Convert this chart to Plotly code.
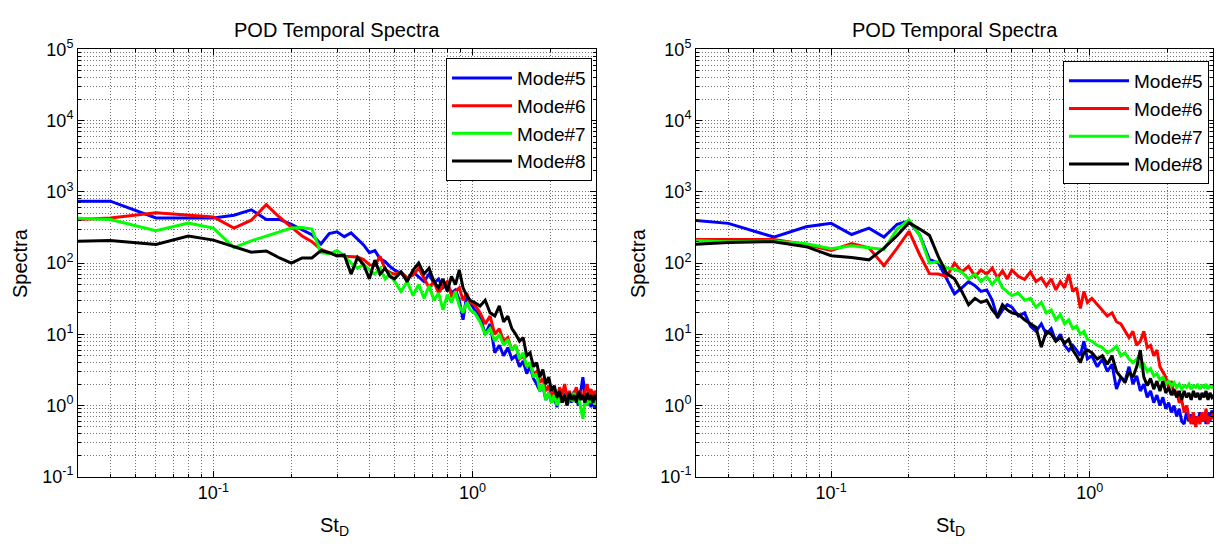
import plotly.graph_objects as go

# Strouhal number (St_D) sample points shared by every series
st_d = [0.02, 0.04, 0.06, 0.08, 0.10, 0.12, 0.14, 0.16, 0.18, 0.20,
        0.22, 0.24, 0.26, 0.28, 0.30, 0.32, 0.34, 0.36, 0.38, 0.40,
        0.42, 0.44, 0.46, 0.48, 0.50,
        0.53, 0.56, 0.59, 0.62, 0.65, 0.68, 0.71, 0.74, 0.77, 0.80,
        0.83, 0.86, 0.89, 0.92, 0.95, 0.98,
        1.02, 1.07, 1.12, 1.17, 1.22, 1.27, 1.32, 1.37, 1.42, 1.47,
        1.52, 1.57, 1.62, 1.67, 1.72, 1.77, 1.82, 1.87, 1.92, 1.97,
        2.02, 2.07, 2.12, 2.17, 2.22, 2.27, 2.32, 2.37, 2.42, 2.47,
        2.52, 2.57, 2.62, 2.67, 2.72, 2.77, 2.82, 2.87, 2.92, 2.97,
        3.02, 3.07]

mode_names = ["Mode#5", "Mode#6", "Mode#7", "Mode#8"]
mode_colors = ["#0000FF", "#FF0000", "#00FF00", "#000000"]

# ---- left panel ----
left_mode5 = [740, 740, 430, 430, 430, 470, 560, 410, 410, 350,
              290, 250, 185, 260, 275, 235, 265, 220, 180, 140,
              150, 115, 105, 90, 80,
              72, 60, 75, 65, 55, 70, 52, 60, 45, 50,
              38, 42, 30, 16, 35, 28,
              22, 18, 10, 14, 5.5, 7, 5, 6.5, 4.5, 5,
              3.5, 4.2, 2.8, 3.5, 2.4, 2.0, 1.6, 1.9, 1.2, 1.5,
              1.1, 1.3, 0.95, 1.4, 1.1, 1.5, 1.0, 1.3, 1.1, 1.6,
              1.2, 1.0, 1.7, 2.5, 1.4, 1.0, 1.2, 0.95, 1.3, 0.9,
              1.0, 0.95]
left_mode6 = [380, 430, 510, 475, 445, 310, 400, 660, 440, 320,
              240, 200, 155, 140, 128, 125, 125, 122, 112, 95,
              92, 125, 82, 74, 70,
              75, 62, 68, 85, 60, 45, 55, 38, 48, 55,
              35, 40, 45, 30, 38, 28,
              26, 20, 14, 18, 10, 12, 8, 9, 6, 7,
              4.5, 5, 3.5, 4, 2.7, 3, 2.1, 2.4, 1.6, 1.9,
              1.3, 1.6, 1.2, 1.8, 1.4, 2.0, 1.3, 1.6, 1.2, 1.5,
              1.8, 1.3, 1.6, 1.2, 1.5, 2.0, 1.4, 1.7, 1.3, 1.6,
              1.4, 1.5]
left_mode7 = [450, 410, 285, 365, 310, 165, 205, 240, 275, 310,
              315, 300, 140, 135, 150, 125, 100, 85, 95, 80,
              70, 85, 60, 70, 55,
              40, 55, 35, 50, 32, 48, 30, 38, 22, 36,
              28, 40, 25, 20, 28, 22,
              20, 15, 10, 12, 8, 10, 7, 8.5, 6, 7,
              4.5, 5.5, 3.5, 4, 2.5, 2.8, 1.6, 2.0, 1.2, 1.5,
              1.1, 1.4, 1.0, 1.3, 1.1, 1.4, 1.0, 1.3, 1.2, 1.5,
              1.1, 1.3, 0.9, 0.65, 1.2, 1.0, 1.4, 1.1, 1.3, 1.0,
              1.2, 1.1]
left_mode8 = [195, 207, 183, 240, 210, 172, 142, 148, 118, 100,
              118, 118, 150, 140, 126, 130, 70, 120, 95, 60,
              110, 70, 85, 65, 60,
              75, 55, 80, 100, 70, 85, 55, 45, 60, 40,
              65, 50, 80, 45, 35, 30,
              28, 25, 30, 20, 18, 25, 15, 18, 12, 10,
              8, 9, 5, 5.5, 3.5, 4, 2.5, 3.2, 2.0, 2.5,
              1.6, 1.9, 1.3, 1.6, 1.1, 1.4, 1.0, 1.5, 1.2, 1.4,
              1.1, 1.6, 1.2, 1.4, 1.1, 1.5, 1.2, 1.4, 1.1, 1.4,
              1.2, 1.3]

# ---- right panel ----
right_mode5 = [450, 361, 232, 323, 361, 252, 309, 232, 351, 390,
               247, 113, 100, 60, 37, 45, 55, 48, 40, 42,
               30, 17, 22, 26, 24,
               18, 20, 13, 11, 14, 10, 12, 8, 10, 7,
               5.9, 7, 6, 5, 8, 4.5,
               5, 3.5, 4.5, 3, 3.8, 1.7, 2.5, 2.2, 3.5, 2.0,
               2.6, 1.6, 2.0, 1.3, 1.6, 1.1, 1.4, 1.0, 1.3, 0.9,
               1.1, 0.8, 1.0, 0.7, 0.9, 0.6, 0.55, 0.8, 0.6, 0.75,
               0.55, 0.7, 0.6, 0.8, 0.6, 0.75, 0.55, 0.8, 0.6, 0.85,
               0.7, 0.75]
right_mode6 = [214, 214, 214, 182, 151, 188, 164, 92, 162, 280,
               131, 71, 70, 65, 100, 75, 90, 65, 80, 70,
               85, 62, 78, 60, 80,
               65, 59, 75, 55, 62, 48, 60, 42, 55, 45,
               70, 40, 45, 23, 40, 28,
               32, 26, 22, 18, 20, 15, 14, 11, 9, 11,
               7, 8, 11, 6.5, 7, 5, 6, 3.5, 3, 2.5,
               1.8, 2.2, 1.4, 1.6, 1.1, 1.2, 0.8, 1.0, 0.7, 0.55,
               0.8, 0.5, 0.7, 0.55, 0.8, 0.6, 0.9, 0.55, 0.7, 0.65,
               0.8, 0.7]
right_mode7 = [215, 200, 204, 187, 159, 175, 164, 155, 300, 405,
               245, 100, 105, 85, 82, 75, 60, 70, 55, 65,
               50, 62, 45, 40, 35,
               38, 30, 32, 24, 28, 20, 22, 16, 19, 14,
               16, 12, 13, 10, 11, 8.5,
               8, 7, 6.5, 5.5, 6, 6.8, 5, 5.5, 4.5, 4,
               4.5, 3.5, 3.8, 3.0, 3.3, 2.6, 2.8, 2.3, 2.5, 2.0,
               2.2, 1.9, 2.1, 1.8, 2.0, 1.7, 1.9, 1.8, 2.0, 1.7,
               1.9, 1.8, 2.0, 1.7, 1.9, 1.8, 2.0, 1.7, 1.9, 1.8,
               1.9, 1.7]
right_mode8 = [170, 195, 200, 170, 127, 120, 111, 162, 245, 370,
               300, 245, 122, 71, 60, 40, 26, 32, 28, 30,
               22, 18, 26, 22, 20,
               19, 16, 14, 12.5, 6.6, 11, 10, 8, 9, 7.5,
               8.5, 6, 5, 4, 5.5, 6,
               5.5, 4.5, 5, 3.8, 5, 3, 2.5, 2.1, 3, 2.5,
               3.5, 6, 2.5, 1.9, 2.4, 1.7, 2.2, 1.6, 2.2, 1.5,
               1.8, 1.4, 1.7, 1.3, 1.6, 1.2, 1.6, 1.3, 1.5, 1.2,
               1.6, 1.3, 1.5, 1.2, 1.5, 1.3, 1.6, 1.2, 1.5, 1.3,
               1.4, 1.3]

x_tick_vals = [0.1, 1]
x_tick_text = ["10<sup>-1</sup>", "10<sup>0</sup>"]
y_tick_vals = [0.1, 1, 10, 100, 1000, 10000, 100000]
y_tick_text = ["10<sup>-1</sup>", "10<sup>0</sup>", "10<sup>1</sup>", "10<sup>2</sup>",
               "10<sup>3</sup>", "10<sup>4</sup>", "10<sup>5</sup>"]
x_minor_vals = [0.03, 0.04, 0.05, 0.06, 0.07, 0.08, 0.09,
                0.2, 0.3, 0.4, 0.5, 0.6, 0.7, 0.8, 0.9, 2, 3]
y_minor_vals = [m * 10.0 ** k for k in range(-1, 5) for m in range(2, 10)]

FONT = "Arial, 'Liberation Sans', sans-serif"
W, H = 1221, 552

fig = go.Figure()
left_series = [left_mode5, left_mode6, left_mode7, left_mode8]
right_series = [right_mode5, right_mode6, right_mode7, right_mode8]
for name, color, ys in zip(mode_names, mode_colors, left_series):
    fig.add_trace(go.Scatter(x=st_d, y=ys, mode="lines", name=name,
                             line=dict(color=color, width=3),
                             xaxis="x", yaxis="y", legend="legend"))
for name, color, ys in zip(mode_names, mode_colors, right_series):
    fig.add_trace(go.Scatter(x=st_d, y=ys, mode="lines", name=name,
                             line=dict(color=color, width=3),
                             xaxis="x2", yaxis="y2", legend="legend2"))

grid_color = "rgba(0,0,0,0.55)"
GDASH = "1px,2px"

def xaxis_cfg(domain, anchor):
    return dict(type="log", domain=domain, anchor=anchor,
                range=[-1.5229, 0.4771],
                tickvals=x_tick_vals, ticktext=x_tick_text,
                ticks="inside", ticklen=6, tickcolor="black",
                showline=True, linecolor="black", linewidth=1, mirror="ticks",
                showgrid=True, gridcolor=grid_color, griddash=GDASH, gridwidth=1,
                minor=dict(tickvals=x_minor_vals, ticks="inside", ticklen=3,
                           tickcolor="black", showgrid=True,
                           gridcolor=grid_color, griddash=GDASH, gridwidth=1),
                tickfont=dict(family=FONT, size=18, color="black"),
                zeroline=False)

def yaxis_cfg(domain, anchor):
    return dict(type="log", domain=domain, anchor=anchor,
                range=[-1, 5],
                tickvals=y_tick_vals, ticktext=y_tick_text,
                ticks="inside", ticklen=6, tickcolor="black",
                showline=True, linecolor="black", linewidth=1, mirror="ticks",
                showgrid=True, gridcolor=grid_color, griddash=GDASH, gridwidth=1,
                minor=dict(tickvals=y_minor_vals, ticks="inside", ticklen=3,
                           tickcolor="black", showgrid=True,
                           gridcolor=grid_color, griddash=GDASH, gridwidth=1),
                tickfont=dict(family=FONT, size=18, color="black"),
                zeroline=False)

ydom = [1 - 484 / H, 1 - 39 / H]
legend_style = dict(bgcolor="white", bordercolor="black", borderwidth=1,
                    font=dict(family=FONT, size=19, color="black"),
                    itemwidth=60, tracegroupgap=0)
fig.update_layout(
    width=W, height=H,
    margin=dict(l=0, r=0, t=0, b=0),
    paper_bgcolor="white", plot_bgcolor="white",
    font=dict(family=FONT, color="black"),
    xaxis=xaxis_cfg([78 / W, 596 / W], "y"),
    yaxis=yaxis_cfg(ydom, "x"),
    xaxis2=xaxis_cfg([696 / W, 1213 / W], "y2"),
    yaxis2=yaxis_cfg(ydom, "x2"),
    legend=dict(x=592 / W, xanchor="right", y=1 - 48 / H, yanchor="top", **legend_style),
    legend2=dict(x=1209 / W, xanchor="right", y=1 - 51 / H, yanchor="top", **legend_style),
    showlegend=True,
)

annotations = []
for cx, ylab_x, xlab_x in [(337, 19.5, 334), (954.5, 637.5, 951)]:
    annotations.append(dict(text="POD Temporal Spectra", x=cx / W, y=1 - 18.5 / H,
                            xref="paper", yref="paper", showarrow=False,
                            xanchor="center", yanchor="middle",
                            font=dict(family=FONT, size=20, color="black")))
    annotations.append(dict(text="St<sub>D</sub>", x=xlab_x / W, y=1 - 536 / H,
                            xref="paper", yref="paper", showarrow=False,
                            xanchor="center", yanchor="middle",
                            font=dict(family=FONT, size=20, color="black")))
    annotations.append(dict(text="Spectra", x=ylab_x / W, y=1 - 262 / H,
                            xref="paper", yref="paper", showarrow=False,
                            textangle=-90, xanchor="center", yanchor="middle",
                            font=dict(family=FONT, size=20, color="black")))
fig.update_layout(annotations=annotations)

fig.write_html("out.html", config={"displayModeBar": False},
               post_script="document.body.style.margin='0px';")
